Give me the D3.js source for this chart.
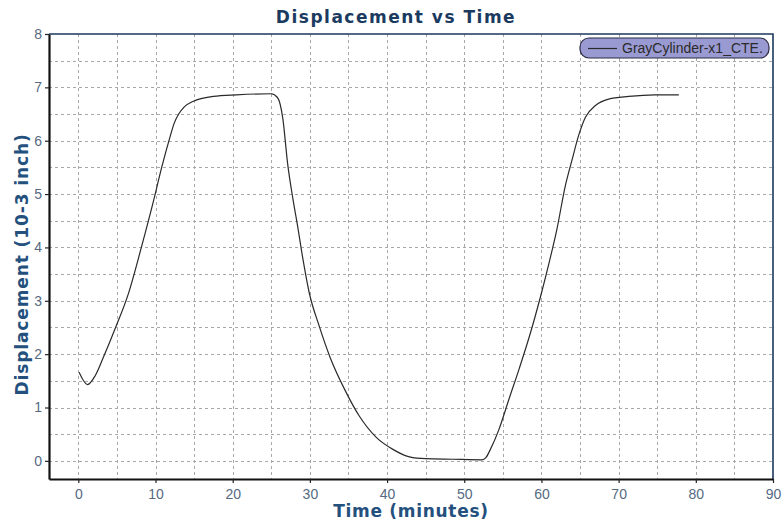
<!DOCTYPE html>
<html>
<head>
<meta charset="utf-8">
<script src="https://cdn.jsdelivr.net/npm/d3@7"></script>
<style>
  body { margin: 0; background: #fff; }
  svg { display: block; }
</style>
</head>
<body>
<svg id="svgChart" width="782" height="524"></svg>
<script>
// Time (minutes)
let timeMin = [0.1, 0.6, 1.2, 2.2, 3.3, 4.8, 6.5, 8.2, 9.7, 10.8, 11.9, 12.4, 13.0,
  13.7, 14.9, 17.5, 20.5, 25.0, 25.8, 26.5, 27.1, 27.8, 28.4, 29.1, 29.9, 31.2, 32.7,
  34.5, 36.4, 38.6, 40.7, 42.9, 45.0, 48.5, 52.3, 52.8, 53.4, 54.5, 55.8, 57.1,
  58.6, 59.9, 60.9, 62.0, 63.1, 64.0, 64.8, 65.7, 67.0, 68.7, 71.3, 74.7, 77.8];

// Displacement (10-3 inch)
let dispVals = [1.66, 1.52, 1.43, 1.6, 1.96, 2.49, 3.14, 4.02, 4.85, 5.5, 6.08, 6.32, 6.5,
  6.63, 6.74, 6.83, 6.86, 6.88, 6.81, 6.41, 5.59, 4.91, 4.41, 3.78, 3.16, 2.53, 1.91,
  1.34, 0.84, 0.44, 0.22, 0.075, 0.04, 0.03, 0.02, 0.06, 0.22, 0.59, 1.16, 1.72,
  2.41, 3.09, 3.66, 4.34, 5.16, 5.66, 6.09, 6.44, 6.66, 6.78, 6.83, 6.86, 6.86];

let xTicks = [0, 10, 20, 30, 40, 50, 60, 70, 80, 90];
let yTicks = [0, 1, 2, 3, 4, 5, 6, 7, 8];
let seriesName = "GrayCylinder-x1_CTE.";

// Plot box
let box = { left: 49, right: 773, top: 34, bottom: 479 };

let svg = d3.select("#svgChart");

let x = d3.scaleLinear().domain([-3.8, 90]).range([box.left, box.right]);
let y = d3.scaleLinear().domain([-0.34, 8]).range([box.bottom, box.top]);

// Dashed grid: every 5 minutes and every 0.5 units
let gridX = d3.range(0, 90, 5);
let gridY = d3.range(0, 8, 0.5);

let grid = svg.append("g")
    .attr("stroke", "#a8a8a8")
    .attr("stroke-width", 1)
    .attr("stroke-dasharray", "3,3");

grid.selectAll(".gx")
  .data(gridX)
  .join("line")
    .attr("class", "gx")
    .attr("x1", d => Math.round(x(d)) + 0.5)
    .attr("x2", d => Math.round(x(d)) + 0.5)
    .attr("y1", box.top)
    .attr("y2", box.bottom);

grid.selectAll(".gy")
  .data(gridY)
  .join("line")
    .attr("class", "gy")
    .attr("x1", box.left)
    .attr("x2", box.right)
    .attr("y1", d => Math.round(y(d)) + 0.5)
    .attr("y2", d => Math.round(y(d)) + 0.5);

// Top and right frame
svg.append("path")
    .attr("d", `M${box.left},${box.top}H${box.right}V${box.bottom}`)
    .attr("fill", "none")
    .attr("stroke", "#1d3a5c")
    .attr("stroke-width", 1.6);

// Axes
let xAxis = svg.append("g")
    .attr("transform", `translate(0,${box.bottom})`)
    .call(d3.axisBottom(x).tickValues(xTicks).tickSize(4).tickSizeOuter(0).tickPadding(6));

let yAxis = svg.append("g")
    .attr("transform", `translate(${box.left},0)`)
    .call(d3.axisLeft(y).tickValues(yTicks).tickSize(4).tickSizeOuter(0).tickPadding(3));

[xAxis, yAxis].forEach(a => {
  a.select(".domain").attr("stroke", "#111").attr("stroke-width", 2.2);
  a.selectAll(".tick line").attr("stroke", "#222").attr("stroke-width", 1.2);
  a.selectAll(".tick text")
    .attr("fill", "#556a82")
    .attr("font-family", "Liberation Sans, Arial, sans-serif")
    .attr("font-size", 14);
});

// Data line
let line = d3.line()
    .x((d, i) => x(timeMin[i]))
    .y(d => y(d))
    .curve(d3.curveMonotoneX);

svg.append("path")
    .datum(dispVals)
    .attr("d", line)
    .attr("fill", "none")
    .attr("stroke", "#2a2a2a")
    .attr("stroke-width", 1.2);

// Title and axis labels
svg.append("text")
    .attr("x", 396)
    .attr("y", 23)
    .attr("text-anchor", "middle")
    .attr("fill", "#1b3a60")
    .attr("font-family", "DejaVu Sans, Verdana, sans-serif")
    .attr("font-weight", "bold")
    .attr("font-size", 17)
    .attr("letter-spacing", 1.5)
    .text("Displacement vs Time");

svg.append("text")
    .attr("x", 411)
    .attr("y", 517)
    .attr("text-anchor", "middle")
    .attr("fill", "#24507e")
    .attr("font-family", "DejaVu Sans, Verdana, sans-serif")
    .attr("font-weight", "bold")
    .attr("font-size", 17)
    .attr("letter-spacing", 0.7)
    .text("Time (minutes)");

svg.append("text")
    .attr("transform", `translate(28,${(box.top + box.bottom) / 2 + 8}) rotate(-90)`)
    .attr("text-anchor", "middle")
    .attr("fill", "#24507e")
    .attr("font-family", "DejaVu Sans, Verdana, sans-serif")
    .attr("font-weight", "bold")
    .attr("font-size", 17)
    .attr("letter-spacing", 0.9)
    .text("Displacement (10-3 inch)");

// Legend
let legend = svg.append("g")
    .attr("transform", "translate(580,38)");

legend.append("rect")
    .attr("width", 189)
    .attr("height", 20)
    .attr("rx", 9)
    .attr("fill", "#9a9ad2")
    .attr("stroke", "#2b2b44")
    .attr("stroke-width", 1.2);

legend.append("line")
    .attr("x1", 8)
    .attr("x2", 37)
    .attr("y1", 10.5)
    .attr("y2", 10.5)
    .attr("stroke", "#2a2a2a")
    .attr("stroke-width", 1.2);

legend.append("text")
    .attr("x", 42)
    .attr("y", 15)
    .attr("fill", "#2a2a2a")
    .attr("font-family", "Liberation Sans, Arial, sans-serif")
    .attr("font-size", 14)
    .text(seriesName);
</script>
</body>
</html>
